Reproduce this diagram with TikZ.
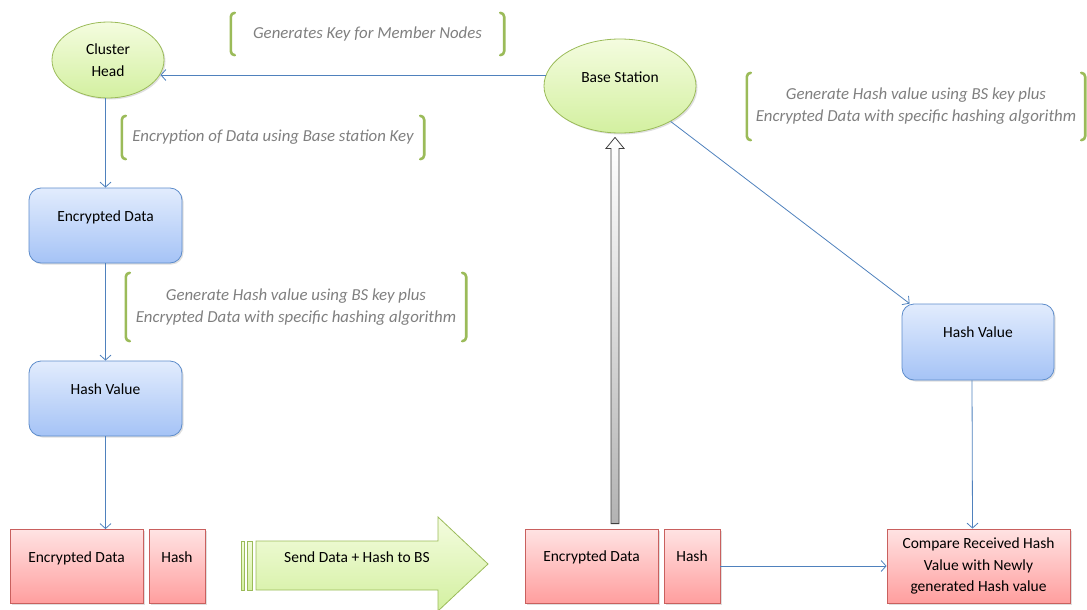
\documentclass[tikz,border=0pt]{standalone}
\usepackage{fontspec}
\setmainfont{Carlito}
\usetikzlibrary{shapes.geometric,arrows.meta,calc,shadows}
\definecolor{lineblue}{HTML}{4F81BD}
\definecolor{gborder}{HTML}{9BBB59}
\definecolor{gtop}{HTML}{F4FCDF}
\definecolor{gbot}{HTML}{D3F0A0}
\definecolor{btop}{HTML}{E2ECFD}
\definecolor{bbot}{HTML}{A5C3F6}
\definecolor{bborder}{HTML}{5D8CCB}
\definecolor{rtop}{HTML}{FFE3E3}
\definecolor{rbot}{HTML}{FF9E9E}
\definecolor{rborder}{HTML}{C9605E}
\definecolor{notegray}{HTML}{7F7F7F}
\newcommand\drawbrk[1]{%
  \draw[brk] ($(#1.north west)+(4,0)$) -- (#1.north west) -- (#1.south west) -- ($(#1.south west)+(4,0)$);
  \draw[brk] ($(#1.north east)+(-4,0)$) -- (#1.north east) -- (#1.south east) -- ($(#1.south east)+(-4,0)$);}
\begin{document}
\begin{tikzpicture}[x=1pt,y=-1pt,
  every node/.style={font=\fontsize{15.5}{21.5}\selectfont, inner sep=0pt},
  shadowed/.style={drop shadow={shadow xshift=1.5pt, shadow yshift=-1.5pt, opacity=0.25}},
  ell/.style={ellipse, draw=gborder, line width=0.8pt, top color=gtop, bottom color=gbot, align=center, shadowed},
  up/.style={text height=11pt, text depth=20pt},
  bluebox/.style={rectangle, rounded corners=12pt, draw=bborder, line width=0.8pt, top color=btop, bottom color=bbot, minimum width=153pt, minimum height=75pt, shadowed, up},
  redbox/.style={rectangle, draw=rborder, line width=0.8pt, top color=rtop, bottom color=rbot, minimum height=74pt, shadowed},
  note/.style={font=\fontsize{16.8}{22}\selectfont\itshape, text=notegray, align=center},
  brk/.style={draw=gborder, line width=2.6pt, line cap=round, rounded corners=4pt},
  link/.style={draw=lineblue, line width=0.8pt, -{Straight Barb[length=5pt,width=11pt]}},
  garrow/.style={draw=gborder, line width=0.8pt, top color=gtop, bottom color=gbot},
  hollow/.style={draw=black!75, line width=0.8pt, top color=white, bottom color=black!30},
]
\useasboundingbox (0,0) rectangle (1087,610);

% nodes
\node[ell, minimum width=112pt, minimum height=76pt] (ch) at (108,60) {Cluster\\Head};
\node[ell, minimum width=152pt, minimum height=94pt, text height=11pt, text depth=19pt] (bs) at (620,86) {Base Station};
\node[bluebox] (ed1) at (105.5,225.5) {Encrypted Data};
\node[bluebox] (hv1) at (105.5,398.5) {Hash Value};
\node[bluebox, minimum width=152pt, minimum height=76pt] (hv2) at (978,342) {Hash Value};
\node[redbox, minimum width=133pt, up] (ed3) at (76.5,566.5) {Encrypted Data};
\node[redbox, minimum width=56pt, up] (h3) at (177,566.5) {Hash};
\node[redbox, minimum width=133pt, up] (ed4) at (591.5,566) {Encrypted Data};
\node[redbox, minimum width=56pt, up] (h4) at (692,566) {Hash};
\node[redbox, minimum width=183pt, align=center] (cmp) at (978.5,566) {Compare Received Hash\\Value with Newly\\generated Hash value};

% notes
\node[note, minimum width=273pt, minimum height=42pt] (n1) at (367.5,34) {Generates Key for Member Nodes};
\node[note, minimum width=302pt, minimum height=43pt] (n2) at (273,137.5) {Encryption of Data using Base station Key};
\node[note, minimum width=340pt, minimum height=68pt] (n3) at (296,307) {Generate Hash value using BS key plus\\Encrypted Data with specific hashing algorithm};
\node[note, minimum width=338pt, minimum height=67pt] (n4) at (916,106.5) {Generate Hash value using BS key plus\\Encrypted Data with specific hashing algorithm};
\drawbrk{n1}
\drawbrk{n2}
\drawbrk{n3}
\drawbrk{n4}

% connectors
\draw[link] ($(bs.west)+(2,-11)$) -- ($(ch.east)+(-4,15)$);
\draw[link] (ed1.north |- ch.south) -- (ed1.north);
\draw[link] (ed1.south) -- (hv1.north);
\draw[link] (hv1.south) -- (hv1.south |- ed3.north);
\draw[link] (bs.-35) -- ($(hv2.north west)+(8,0)$);
\draw[link] ($(hv2.south)+(-6,0)$) -- ($(cmp.north)+(-6,0)$);
\draw[link] (h4.east) -- (cmp.west);

% hollow arrow to base station
\coordinate (ub) at ($(ed4.north)+(23.5,-5)$);
\coordinate (ut) at ($(bs.south)+(-5,4)$);
\draw[hollow] ($(ub)+(-4,0)$) -- ($(ub)+(4,0)$) -- ($(ut)+(4,11)$) -- ($(ut)+(9,11)$) -- (ut) -- ($(ut)+(-9,11)$) -- ($(ut)+(-4,11)$) -- cycle;

% big green arrow
\draw[garrow] (241,541) rectangle (244,590);
\draw[garrow] (247,541) rectangle (252,590);
\draw[garrow] (256,541) -- (438,541) -- (438,517) -- (488,564) -- (438,611) -- (438,590) -- (256,590) -- cycle;
\node (send) at (357,557) {Send Data + Hash to BS};
\end{tikzpicture}
\end{document}
